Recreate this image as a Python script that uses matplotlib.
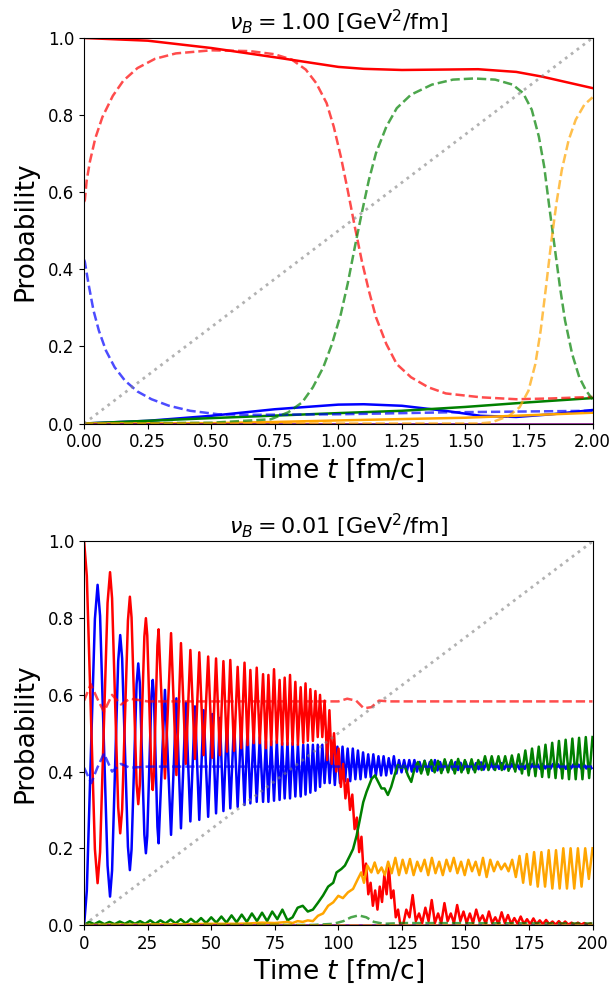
import numpy as np
import matplotlib
matplotlib.use("Agg")
import matplotlib.pyplot as plt

# ---------- top panel: nu_B = 1.00 ----------
top_red_t = [0, 0.25, 0.5, 0.75, 0.9, 1.0, 1.1, 1.25, 1.4, 1.55, 1.7, 1.8, 1.9, 2.0]
top_red_v = [1.0, 0.993, 0.974, 0.95, 0.935, 0.925, 0.92, 0.917, 0.918, 0.919, 0.912, 0.9, 0.885, 0.87]
top_blue_t = [0, 0.25, 0.5, 0.75, 1.0, 1.1, 1.25, 1.42, 1.56, 1.7, 1.84, 2.0]
top_blue_v = [0.0, 0.007, 0.02, 0.037, 0.049, 0.05, 0.046, 0.033, 0.02, 0.017, 0.024, 0.035]
top_green_t = [0, 0.5, 1.0, 1.25, 1.5, 1.75, 2.0]
top_green_v = [0.0, 0.014, 0.027, 0.033, 0.043, 0.055, 0.066]
top_orange_t = [0, 0.5, 0.75, 1.0, 1.5, 2.0]
top_orange_v = [0.0, 0.001, 0.004, 0.008, 0.015, 0.028]

top_red_d_t = [0, 0.003, 0.01, 0.023, 0.044, 0.072, 0.113, 0.154, 0.21, 0.279, 0.361, 0.5, 0.651,
               0.748, 0.817, 0.872, 0.913, 0.954, 0.982, 1.01, 1.037, 1.065, 1.092, 1.12, 1.148,
               1.189, 1.23, 1.286, 1.354, 1.423, 1.561, 1.7, 1.837, 2.0]
top_red_d_v = [0.575, 0.58, 0.63, 0.68, 0.74, 0.795, 0.85, 0.889, 0.922, 0.946, 0.96, 0.968, 0.966,
               0.958, 0.944, 0.918, 0.883, 0.831, 0.77, 0.692, 0.605, 0.51, 0.423, 0.345, 0.276,
               0.206, 0.154, 0.12, 0.094, 0.078, 0.068, 0.063, 0.065, 0.069]
top_blue_d_t = [0, 0.003, 0.017, 0.037, 0.058, 0.086, 0.12, 0.161, 0.21, 0.265, 0.334, 0.417, 0.527,
                0.665, 1.01, 1.423, 2.0]
top_blue_d_v = [0.425, 0.419, 0.363, 0.293, 0.241, 0.189, 0.146, 0.111, 0.083, 0.063, 0.046, 0.033, 0.024,
                0.0225, 0.024, 0.029, 0.033]
top_green_d_t = [0, 0.5, 0.734, 0.803, 0.858, 0.9, 0.941, 0.975, 1.01, 1.037, 1.065, 1.092, 1.12, 1.148,
                 1.189, 1.23, 1.286, 1.368, 1.451, 1.534, 1.617, 1.686, 1.727, 1.761, 1.789, 1.81, 1.83,
                 1.851, 1.872, 1.892, 1.92, 1.948, 1.975, 2.0]
top_green_d_v = [0.0, 0.002, 0.011, 0.029, 0.055, 0.094, 0.146, 0.206, 0.284, 0.363, 0.458, 0.545, 0.631, 0.701,
                 0.77, 0.818, 0.853, 0.879, 0.892, 0.895, 0.892, 0.879, 0.857, 0.814, 0.744, 0.666, 0.562,
                 0.458, 0.354, 0.267, 0.18, 0.12, 0.085, 0.063]
top_orange_d_t = [0, 1.55, 1.603, 1.672, 1.713, 1.748, 1.775, 1.796, 1.817, 1.837, 1.858, 1.879, 1.906,
                  1.934, 1.968, 2.0]
top_orange_d_v = [0.0, 0.0, 0.003, 0.02, 0.042, 0.085, 0.154, 0.241, 0.354, 0.467, 0.571, 0.657, 0.735,
                  0.788, 0.827, 0.846]

# ---------- bottom panel: nu_B = 0.01 ----------
osc_t = [0, 1.06, 4.24, 5.3, 6.28, 9.22, 10.2, 11.0, 13.4, 14.2, 14.96, 17.24, 18.0, 18.66, 20.64,
         21.3, 21.9, 23.7, 24.3, 24.84, 26.46, 27.0, 27.46, 28.84, 29.3,
         31.8, 34.2, 36.3, 38.1, 40.0, 41.8, 43.6, 45.3, 47.0, 48.8,
         50.4, 51.9, 53.4, 54.8, 56.2, 57.5, 59.0, 60.4, 61.8, 63.1,
         64.3, 65.4, 66.7, 67.9, 69.1, 70.4, 71.5, 72.5, 73.6, 74.7,
         75.8, 76.9, 77.9, 78.9, 80.0, 81.0, 82.0, 83.1, 84.1, 85.2,
         86.2, 87.1, 88.0, 89.0, 90.0, 91.0, 91.9, 92.8, 93.7, 94.6]
osc_red = [1.0, 0.91, 0.198, 0.109, 0.19, 0.84, 0.92, 0.852, 0.307, 0.239, 0.301, 0.794, 0.856, 0.802, 0.369,
           0.315, 0.364, 0.752, 0.80, 0.755, 0.397, 0.352, 0.394, 0.729, 0.771,
           0.382, 0.761, 0.391, 0.735, 0.42, 0.717, 0.433, 0.711, 0.443, 0.70,
           0.436, 0.695, 0.443, 0.688, 0.452, 0.691, 0.454, 0.673, 0.461, 0.684,
           0.469, 0.665, 0.474, 0.671, 0.474, 0.654, 0.461, 0.652, 0.469, 0.667,
           0.475, 0.639, 0.47, 0.645, 0.47, 0.652, 0.47, 0.634, 0.47, 0.62,
           0.475, 0.63, 0.48, 0.615, 0.48, 0.61, 0.49, 0.60, 0.49, 0.585]
osc_blue = [0.0, 0.089, 0.798, 0.887, 0.806, 0.155, 0.074, 0.142, 0.688, 0.756, 0.695, 0.204, 0.143, 0.197, 0.628,
            0.682, 0.632, 0.236, 0.187, 0.232, 0.594, 0.639, 0.596, 0.256, 0.213,
            0.613, 0.235, 0.591, 0.252, 0.58, 0.27, 0.57, 0.274, 0.56, 0.282,
            0.55, 0.291, 0.54, 0.297, 0.53, 0.304, 0.53, 0.308, 0.52, 0.313,
            0.51, 0.317, 0.50, 0.321, 0.49, 0.321, 0.48, 0.321, 0.48, 0.324,
            0.48, 0.326, 0.475, 0.33, 0.475, 0.33, 0.475, 0.335, 0.47, 0.335,
            0.47, 0.34, 0.47, 0.345, 0.47, 0.35, 0.47, 0.36, 0.47, 0.37]

red_fall_t = [95.6, 96.5, 97.4, 98.3, 99.2, 100.1, 101.0, 101.9, 102.8, 103.7, 104.6, 105.5, 106.4,
              107.3, 108.2, 109.1, 110.0, 110.9, 111.8, 112.7, 113.6, 114.5, 115.4, 116.3, 117.2,
              118.1, 119.0, 119.9, 120.8, 121.7, 122.6, 123.5, 124.4]
red_fall_v = [0.43, 0.56, 0.42, 0.50, 0.40, 0.46, 0.36, 0.42, 0.33, 0.38, 0.30, 0.34, 0.25,
              0.28, 0.19, 0.23, 0.13, 0.16, 0.08, 0.11, 0.05, 0.09, 0.04, 0.10, 0.06,
              0.13, 0.08, 0.15, 0.07, 0.09, 0.02, 0.04, 0.0]
red_tail_v = [0.0, 0.04, 0.02, 0.078, 0.01, 0.03, 0.005, 0.045, 0.01, 0.065,
              0.005, 0.03, 0.005, 0.057, 0.01, 0.03, 0.005, 0.052, 0.01, 0.035,
              0.005, 0.03, 0.005, 0.04, 0.01, 0.025, 0.003, 0.035, 0.005, 0.02,
              0.003, 0.033, 0.005, 0.026, 0.003, 0.018, 0.003, 0.022, 0.003, 0.015,
              0.002, 0.017, 0.002, 0.012, 0.002, 0.013, 0.002, 0.009, 0.001, 0.01,
              0.001, 0.009, 0.001, 0.006, 0.001, 0.006, 0.001, 0.005, 0.001, 0.004]

blue_late_hi = [0.47, 0.47, 0.465, 0.465, 0.46, 0.46, 0.455, 0.45, 0.445, 0.445, 0.44, 0.44, 0.435,
                0.44, 0.43, 0.43, 0.43, 0.43, 0.425, 0.428, 0.425, 0.43, 0.425, 0.426, 0.424, 0.425,
                0.423, 0.425, 0.423, 0.422, 0.424, 0.422, 0.423, 0.421, 0.422, 0.42, 0.421, 0.42,
                0.42, 0.421, 0.42, 0.419, 0.42, 0.419, 0.42, 0.419, 0.419, 0.42, 0.419, 0.418, 0.419, 0.419]
blue_late_lo = [0.37, 0.365, 0.37, 0.375, 0.375, 0.38, 0.38, 0.385, 0.385, 0.39, 0.39, 0.39, 0.395,
                0.395, 0.398, 0.398, 0.4, 0.4, 0.402, 0.4, 0.402, 0.403, 0.404, 0.403, 0.405, 0.404,
                0.405, 0.404, 0.405, 0.406, 0.405, 0.406, 0.406, 0.407, 0.406, 0.407, 0.407, 0.406,
                0.407, 0.407, 0.408, 0.407, 0.408, 0.407, 0.408, 0.408, 0.407, 0.408, 0.408, 0.408, 0.408, 0.409]

green_early_v = [0.0, 0.008, 0.002, 0.009, 0.002, 0.008, 0.002, 0.009, 0.003, 0.01, 0.003, 0.01,
                 0.003, 0.012, 0.003, 0.012, 0.004, 0.014, 0.004, 0.015, 0.004, 0.016, 0.005, 0.018,
                 0.005, 0.02, 0.006, 0.022, 0.006, 0.025, 0.007, 0.027, 0.008, 0.03, 0.01, 0.032,
                 0.01, 0.035, 0.015, 0.04, 0.012, 0.02, 0.045, 0.05, 0.035, 0.04]
green_mid_t = [92, 94, 96, 98, 99.3, 101.2, 102.6, 104.5, 105.8, 107.2, 108.5, 109.8, 111.1, 113.1,
               114.4, 115.7, 117, 118.2, 119.5, 120.8, 122.1, 123.4, 124.7, 126.1, 127.4, 128.7, 130, 131.3]
green_mid_v = [0.058, 0.077, 0.1, 0.11, 0.137, 0.146, 0.155, 0.18, 0.198, 0.233, 0.276, 0.32, 0.347, 0.381,
               0.39, 0.373, 0.356, 0.356, 0.339, 0.36, 0.39, 0.417, 0.41, 0.415, 0.39, 0.373, 0.408, 0.425]
green_late_lo = [0.395, 0.392, 0.398, 0.396, 0.398, 0.395, 0.398, 0.396, 0.398, 0.404, 0.404, 0.404, 0.404,
                 0.402, 0.40, 0.395, 0.39, 0.388, 0.386, 0.385, 0.383, 0.382, 0.38, 0.38, 0.38, 0.383]
green_late_hi = [0.428, 0.43, 0.428, 0.432, 0.43, 0.433, 0.43, 0.432, 0.43, 0.44, 0.44, 0.44, 0.44,
                 0.442, 0.445, 0.455, 0.46, 0.465, 0.47, 0.475, 0.48, 0.483, 0.486, 0.488, 0.49, 0.49]

orange_t = [0, 10, 20, 30, 40, 50, 60, 65, 70, 75, 80, 82, 84, 86, 88, 90, 92, 94, 96, 98, 100,
            101.8, 103.8, 105.8, 107.7, 109, 110.1, 111.4, 113, 114.3, 115.6, 117, 118.3, 119.6]
orange_v = [0.0, 0.001, 0.001, 0.002, 0.002, 0.003, 0.003, 0.004, 0.006, 0.005, 0.008, 0.005, 0.01,
            0.008, 0.012, 0.01, 0.024, 0.03, 0.05, 0.059, 0.076, 0.07, 0.085, 0.094, 0.12, 0.137, 0.11,
            0.155, 0.137, 0.163, 0.135, 0.15, 0.13, 0.165]
orange_late_lo = [0.135, 0.13, 0.135, 0.13, 0.14, 0.13, 0.135, 0.13, 0.14, 0.135, 0.13, 0.14, 0.13, 0.125,
                  0.14, 0.145, 0.14, 0.125, 0.11, 0.105, 0.1, 0.1, 0.095, 0.095, 0.095, 0.095, 0.1, 0.12]
orange_late_hi = [0.175, 0.17, 0.172, 0.165, 0.17, 0.175, 0.165, 0.17, 0.175, 0.165, 0.17, 0.165, 0.175, 0.17,
                  0.165, 0.16, 0.17, 0.18, 0.185, 0.19, 0.19, 0.195, 0.195, 0.2, 0.2, 0.2, 0.2, 0.2]

red_d_t = [0, 2.6, 5.2, 7.8, 11, 14.5, 18, 25, 100, 103.5, 107, 110, 113, 116, 120, 200]
red_d_v = [0.585, 0.628, 0.59, 0.556, 0.60, 0.575, 0.59, 0.583, 0.583, 0.59, 0.585, 0.565, 0.568, 0.585, 0.583, 0.583]
blue_d_t = [0, 2.8, 5.2, 7.8, 11, 14.5, 18, 25, 200]
blue_d_v = [0.41, 0.37, 0.41, 0.447, 0.40, 0.42, 0.41, 0.413, 0.413]
green_d_t = [0, 90, 98, 102, 105, 108, 111, 114, 118, 125, 200]
green_d_v = [0.0, 0.0, 0.003, 0.01, 0.02, 0.025, 0.02, 0.008, 0.003, 0.005, 0.004]


def interleave(a, b):
    return [v for pair in zip(a, b) for v in pair]


bot_red_t = osc_t + red_fall_t + list(np.linspace(125.5, 199.25, len(red_tail_v)))
bot_red_v = osc_red + red_fall_v + red_tail_v
bot_blue_t = osc_t + list(np.linspace(95.6, 199.6, 2 * len(blue_late_hi)))
bot_blue_v = osc_blue + interleave(blue_late_hi, blue_late_lo)
bot_green_t = list(np.linspace(0, 90, len(green_early_v))) + green_mid_t + \
    list(np.linspace(132.6, 200, 2 * len(green_late_lo)))
bot_green_v = green_early_v + green_mid_v + interleave(green_late_lo, green_late_hi)
bot_orange_t = orange_t + list(np.linspace(121, 200, 2 * len(orange_late_lo)))
bot_orange_v = orange_v + interleave(orange_late_lo, orange_late_hi)

fig = plt.figure(figsize=(6.14, 9.84), dpi=100)
ax1 = fig.add_axes([0.137, 0.5696, 0.828, 0.3918])
ax2 = fig.add_axes([0.137, 0.0600, 0.828, 0.3897])

lw = 1.8


def draw(ax, solid, dashed, tmax):
    for (t, v), c in zip(solid, ["blue", "red", "green", "orange"]):
        ax.plot(t, v, color=c, lw=lw)
    ax.plot([0, tmax], [0, 0], color="purple", lw=lw)
    for (t, v), c in zip(dashed, ["red", "blue", "green", "orange"]):
        ax.plot(t, v, color=c, lw=lw, ls="--", alpha=0.7)
    ax.plot([0, tmax], [0, 1], color="gray", lw=2, ls=":", alpha=0.6)
    ax.set_xlim(0, tmax)
    ax.set_ylim(0, 1)
    ax.set_xlabel("Time $t$ [fm/c]", fontsize=19)
    ax.set_ylabel("Probability", fontsize=19, labelpad=7)
    ax.tick_params(labelsize=12)


draw(ax1,
     [(top_blue_t, top_blue_v), (top_red_t, top_red_v), (top_green_t, top_green_v), (top_orange_t, top_orange_v)],
     [(top_red_d_t, top_red_d_v), (top_blue_d_t, top_blue_d_v), (top_green_d_t, top_green_d_v),
      (top_orange_d_t, top_orange_d_v)], 2.0)
ax1.set_title(r"$\nu_B = 1.00$ [GeV$^2$/fm]", fontsize=16)

draw(ax2,
     [(bot_blue_t, bot_blue_v), (bot_red_t, bot_red_v), (bot_green_t, bot_green_v), (bot_orange_t, bot_orange_v)],
     [(red_d_t, red_d_v), (blue_d_t, blue_d_v), (green_d_t, green_d_v), ([0, 200], [0, 0])], 200)
ax2.set_title(r"$\nu_B = 0.01$ [GeV$^2$/fm]", fontsize=16)

fig.savefig("out.png", dpi=100)
